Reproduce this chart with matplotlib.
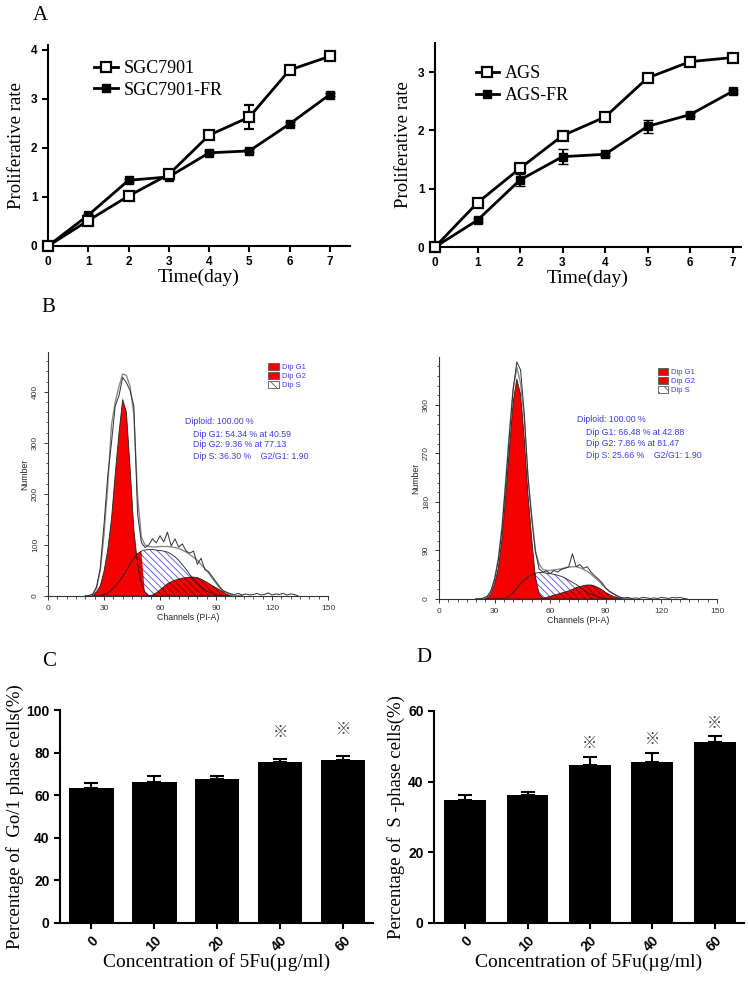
import numpy as np
import matplotlib
matplotlib.use("Agg")
import matplotlib.pyplot as plt
from matplotlib.patches import Patch
from matplotlib.lines import Line2D
from matplotlib.ticker import MultipleLocator

SERIF = "Liberation Serif"
SANS = "Liberation Sans"
plt.rcParams["font.family"] = [SANS, "DejaVu Sans"]
plt.rcParams["hatch.linewidth"] = 0.6

# --- A : courbes de proliferation ---
days = [0, 1, 2, 3, 4, 5, 6, 7]
sgc = [0, 0.52, 1.02, 1.46, 2.26, 2.63, 3.59, 3.87]
sgc_err = [0, 0.03, 0.04, 0.04, 0.06, 0.24, 0.04, 0.07]
sgc_fr = [0, 0.63, 1.34, 1.41, 1.90, 1.94, 2.49, 3.09]
sgc_fr_err = [0, 0.03, 0.03, 0.03, 0.03, 0.03, 0.03, 0.03]
ags = [0, 0.76, 1.35, 1.91, 2.23, 2.90, 3.18, 3.25]
ags_err = [0, 0.03, 0.05, 0.04, 0.03, 0.04, 0.03, 0.04]
ags_fr = [0, 0.46, 1.15, 1.55, 1.59, 2.07, 2.27, 2.67]
ags_fr_err = [0, 0.03, 0.11, 0.13, 0.03, 0.11, 0.03, 0.03]

# --- B : histogrammes cytometrie (ModFit) ---
ch_fit = np.arange(20, 105, 2)
ch_data = np.arange(20, 135, 2)

g1_sgc = [0, 0, 2, 8, 20, 48, 90, 150, 238, 318, 385, 360, 250, 130, 62, 25, 7, 1,
          0, 0, 0, 0, 0, 0, 0, 0, 0, 0, 0, 0, 0, 0, 0, 0, 0, 0, 0, 0, 0, 0, 0, 0, 0]
s_sgc = [0, 0, 0, 0, 1, 3, 6, 12, 19, 28, 38, 50, 62, 74, 83, 88, 90, 91, 91, 90, 89, 88,
         86, 82, 77, 70, 61, 52, 42, 33, 25, 18, 12, 8, 5, 3, 1, 0, 0, 0, 0, 0, 0]
g2_sgc = [0, 0, 0, 0, 0, 0, 0, 0, 0, 0, 0, 0, 0, 0, 0, 0, 0, 0, 2, 6, 12, 18, 24, 28, 31,
          33, 35, 36, 37, 37, 36, 33, 29, 25, 20, 16, 12, 8, 5, 3, 1, 0, 0]
fit_sgc = [0, 0, 3, 15, 50, 120, 215, 335, 380, 410, 435, 432, 410, 355, 195, 115, 100, 97,
           96, 96, 97, 97, 97, 96, 95, 93, 90, 86, 81, 76, 70, 62, 54, 45, 35, 25, 16, 10,
           5, 2, 1, 0, 0]
data_sgc = [0, 1, 4, 18, 55, 140, 235, 300, 372, 392, 428, 418, 402, 372, 160, 105, 95, 100,
            112, 104, 118, 106, 125, 98, 112, 96, 102, 88, 84, 88, 62, 74, 52, 48, 38, 28, 18,
            10, 7, 4, 3, 5, 2, 4, 2, 3, 5, 2, 3, 6, 2, 4, 3, 5, 2, 4, 3, 0]

g1_ags = [0, 0, 0, 2, 10, 28, 57, 112, 195, 280, 365, 408, 380, 298, 195, 113, 40, 10, 2,
          0, 0, 0, 0, 0, 0, 0, 0, 0, 0, 0, 0, 0, 0, 0, 0, 0, 0, 0, 0, 0, 0, 0, 0]
s_ags = [0, 0, 0, 0, 0, 0, 0, 0, 2, 6, 12, 20, 28, 35, 41, 45, 48, 49, 49, 48, 47, 46, 44,
         42, 39, 35, 31, 27, 22, 17, 13, 9, 6, 4, 2, 1, 0, 0, 0, 0, 0, 0, 0]
g2_ags = [0, 0, 0, 0, 0, 0, 0, 0, 0, 0, 0, 0, 0, 0, 0, 0, 0, 0, 1, 3, 5, 7, 9, 11, 13, 15,
          18, 21, 23, 25, 26, 26, 24, 21, 17, 12, 8, 5, 3, 1, 0, 0, 0]
fit_ags = [0, 0, 1, 4, 14, 38, 75, 135, 220, 310, 390, 430, 400, 335, 225, 155, 90, 65, 55,
           53, 53, 54, 55, 56, 58, 59, 60, 60, 58, 55, 51, 46, 40, 34, 27, 20, 14, 10, 6, 3,
           1, 0, 0]
data_ags = [0, 0, 2, 5, 15, 36, 72, 130, 215, 305, 388, 440, 425, 345, 228, 150, 88, 56, 50,
            52, 47, 53, 50, 55, 57, 60, 84, 60, 64, 57, 60, 50, 43, 37, 30, 20, 14, 10, 6, 3,
            2, 3, 1, 2, 1, 3, 2, 1, 2, 1, 3, 2, 1, 3, 2, 3, 1, 0]

stats_sgc = ["Diploid: 100.00 %", "Dip G1: 54.34 % at 40.59", "Dip G2: 9.36 % at 77.13",
             "Dip S: 36.30 %    G2/G1: 1.90"]
stats_ags = ["Diploid: 100.00 %", "Dip G1: 66.48 % at 42.88", "Dip G2: 7.86 % at 81.47",
             "Dip S: 25.66 %    G2/G1: 1.90"]

# --- C / D : barres ---
conc = ["0", "10", "20", "40", "60"]
g01_pct = [63.6, 66.0, 67.6, 75.4, 76.3]
g01_err = [2.2, 3.0, 1.4, 1.7, 2.1]
g01_sig = [False, False, False, True, True]
s_pct = [34.7, 36.1, 44.7, 45.5, 51.3]
s_err = [1.4, 1.0, 2.3, 2.6, 1.5]
s_sig = [False, False, True, True, True]

W, H = 748, 982
RED = "#f40000"
BLUE_TXT = "#3c3cf0"
HATCH = "\\" * 5


def box(x0, y0, x1, y1):
    # pixels -> coordonnees figure
    return [x0 / W, 1 - y1 / H, (x1 - x0) / W, (y1 - y0) / H]


fig = plt.figure(figsize=(W / 100, H / 100), dpi=100)


def prism_axes(ax):
    for s in ["top", "right"]:
        ax.spines[s].set_visible(False)
    for s in ["left", "bottom"]:
        ax.spines[s].set_linewidth(1.5)
    ax.tick_params(width=1.5, length=4, direction="out")
    for lab in ax.get_xticklabels() + ax.get_yticklabels():
        lab.set_fontweight("bold")


def growth(ax, a, a_err, b, b_err, labels, xmax, ymax, yticks, leg_anchor):
    ax.errorbar(days, a, yerr=a_err, color="black", lw=2, marker="s", ms=7,
                mfc="white", mec="black", mew=1.6, capsize=3.5, elinewidth=1.5,
                clip_on=False, zorder=4)
    ax.errorbar(days, b, yerr=b_err, color="black", lw=2, marker="s", ms=6,
                mfc="black", mec="black", capsize=3.5, elinewidth=1.5,
                clip_on=False, zorder=3)
    ax.set_xlim(0, xmax)
    ax.set_ylim(0, ymax)
    ax.set_xticks(days)
    ax.set_yticks(yticks)
    ax.tick_params(labelsize=8.5)
    prism_axes(ax)
    ax.set_xlabel("Time(day)", family=SERIF, fontsize=14, labelpad=0)
    ax.set_ylabel("Proliferative rate", family=SERIF, fontsize=13.5, labelpad=4)
    handles = [Line2D([], [], color="black", lw=2, marker="s", ms=7, mfc="white",
                      mec="black", mew=1.6),
               Line2D([], [], color="black", lw=2, marker="s", ms=6, mfc="black")]
    ax.legend(handles, labels, loc="upper left", bbox_to_anchor=leg_anchor,
              frameon=False, handlelength=1.3, handletextpad=0.3, labelspacing=0.25,
              prop={"family": SERIF, "size": 13})


axA1 = fig.add_axes(box(48, 45, 350, 246))
growth(axA1, sgc, sgc_err, sgc_fr, sgc_fr_err, ["SGC7901", "SGC7901-FR"],
       7.5, 4.1, [0, 1, 2, 3, 4], (0.1, 1.005))
axA2 = fig.add_axes(box(435, 43, 741, 247))
growth(axA2, ags, ags_err, ags_fr, ags_fr_err, ["AGS", "AGS-FR"],
       7.2, 3.5, [0, 1, 2, 3], (0.08, 0.97))


def cycle(ax, g1, s, g2, fit, data, stats, ymax, yticks, yminor, red_cut,
          leg_anchor, txt_x, txt_y):
    g1 = np.array(g1)
    s = np.array(s)
    g2 = np.array(g2)
    ax.fill_between(ch_fit, 0, s, facecolor="white", edgecolor="#5050e0",
                    hatch=HATCH, linewidth=0, zorder=1)
    s_red = np.where(ch_fit <= red_cut, s, 0)
    ax.fill_between(ch_fit, 0, s_red, facecolor=RED, edgecolor="#7a0000",
                    hatch=HATCH, linewidth=0, zorder=2)
    ax.fill_between(ch_fit, 0, g2, facecolor=RED, edgecolor="#7a0000",
                    hatch=HATCH, linewidth=0, zorder=2)
    ax.fill_between(ch_fit, 0, g1, facecolor=RED, linewidth=0, zorder=3)
    for comp in (s, g2, g1):
        ax.plot(ch_fit, comp, color="#202020", lw=0.6, zorder=4)
    ax.plot(ch_fit, fit, color="#8a8a8a", lw=1.0, zorder=5)
    ax.plot(ch_data, data, color="#303030", lw=0.7, zorder=6)

    ax.set_xlim(0, 150)
    ax.set_ylim(0, ymax)
    ax.set_xticks([0, 30, 60, 90, 120, 150])
    ax.set_yticks(yticks)
    ax.xaxis.set_minor_locator(MultipleLocator(5))
    ax.yaxis.set_minor_locator(MultipleLocator(yminor))
    for sp in ["top", "right"]:
        ax.spines[sp].set_visible(False)
    for sp in ["left", "bottom"]:
        ax.spines[sp].set_linewidth(0.8)
        ax.spines[sp].set_color("#333333")
    ax.tick_params(which="major", length=3, width=0.7, labelsize=6, colors="#333333")
    ax.tick_params(which="minor", length=1.8, width=0.6, colors="#333333")
    ax.tick_params(axis="y", labelrotation=90)
    for lab in ax.get_yticklabels():
        lab.set_va("center")
    ax.set_xlabel("Channels (PI-A)", fontsize=6.3, labelpad=1, color="#222222")
    ax.set_ylabel("Number", fontsize=6.3, labelpad=2, color="#222222")

    handles = [Patch(facecolor=RED, edgecolor="#555555", lw=0.6),
               Patch(facecolor=RED, edgecolor="#555555", lw=0.6),
               Patch(facecolor="white", edgecolor="#555555", hatch="\\\\\\", lw=0.6)]
    ax.legend(handles, ["Dip G1", "Dip G2", "Dip S"], loc="upper left",
              bbox_to_anchor=leg_anchor, frameon=False, fontsize=5.5, labelcolor=BLUE_TXT,
              handlelength=1.4, handleheight=1.1, handletextpad=0.4, labelspacing=0.1,
              borderaxespad=0.2)
    ax.text(txt_x[0], txt_y[0], stats[0], transform=ax.transAxes, fontsize=6.3,
            color=BLUE_TXT, va="center")
    for line, y in zip(stats[1:], txt_y[1:]):
        ax.text(txt_x[1], y, line, transform=ax.transAxes, fontsize=6.3,
                color=BLUE_TXT, va="center")


axB1 = fig.add_axes(box(48, 352, 328, 596))
cycle(axB1, g1_sgc, s_sgc, g2_sgc, fit_sgc, data_sgc, stats_sgc, 478,
      [0, 100, 200, 300, 400], 20, 50, (0.77, 0.975),
      (0.489, 0.518), (0.714, 0.663, 0.619, 0.571))
axB2 = fig.add_axes(box(439, 357, 717, 599))
cycle(axB2, g1_ags, s_ags, g2_ags, fit_ags, data_ags, stats_ags, 449,
      [0, 90, 180, 270, 360], 18, 52, (0.77, 0.975),
      (0.4975, 0.528), (0.740, 0.689, 0.643, 0.595))


def bars(ax, vals, errs, sig, ymax, yticks, ylabel, width, star_off):
    x = np.arange(len(conc))
    ax.bar(x, vals, width=width, color="black", zorder=2)
    ax.errorbar(x, vals, yerr=[np.zeros(len(errs)), errs], fmt="none", ecolor="black",
                elinewidth=1.5, capsize=4.7, capthick=1.5, zorder=3)
    for xi, v, e, flag in zip(x, vals, errs, sig):
        if flag:
            ax.annotate("\u203b", (xi, v + e), xytext=(0, star_off),
                        textcoords="offset points", ha="center", va="center",
                        fontsize=11, color="#444444",
                        family=["Noto Sans CJK SC", "DejaVu Sans"])
    ax.set_xlim(-0.5, 4.47)
    ax.set_ylim(0, ymax)
    ax.set_xticks(x)
    ax.set_xticklabels(conc)
    ax.set_yticks(yticks)
    ax.tick_params(labelsize=10)
    prism_axes(ax)
    for lab in ax.get_xticklabels():
        lab.set_rotation(45)
        lab.set_ha("right")
        lab.set_rotation_mode("anchor")
    ax.set_xlabel("Concentration of 5Fu(\u00b5g/ml)", family=SERIF, fontsize=14,
                  labelpad=-1)
    ax.set_ylabel(ylabel, family=SERIF, fontsize=13.5, labelpad=2)


axC = fig.add_axes(box(60, 710, 373, 923))
bars(axC, g01_pct, g01_err, g01_sig, 100, [0, 20, 40, 60, 80, 100],
     "Percentage of  Go/1 phase cells(%)", 0.7, 19)
axD = fig.add_axes(box(434, 711, 744, 923))
bars(axD, s_pct, s_err, s_sig, 60, [0, 20, 40, 60],
     "Percentage of  S -phase cells(%)", 0.67, 9.5)

for letter, px, py in [("A", 40, 15), ("B", 48, 308), ("C", 49, 661), ("D", 424, 658)]:
    fig.text(px / W, 1 - py / H, letter, family=SERIF, fontsize=15,
             ha="center", va="center")

fig.savefig("out.png", dpi=100)
plt.close(fig)
